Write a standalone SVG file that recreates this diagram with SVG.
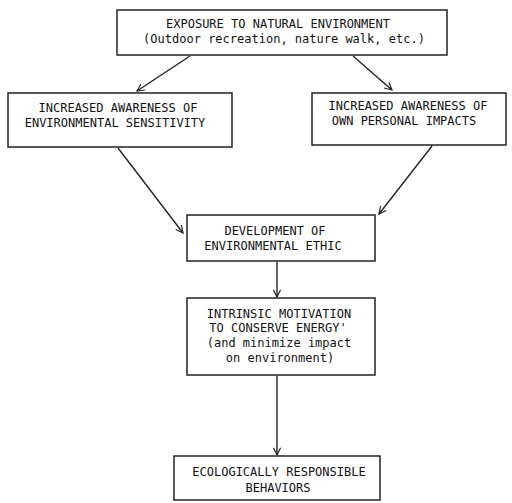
<svg xmlns="http://www.w3.org/2000/svg" width="512" height="503" viewBox="0 0 512 503">
<style>
.box{fill:#fff;stroke:#222;stroke-width:1.5}
.t{font-family:"DejaVu Sans Mono","Liberation Mono",monospace;font-size:12px;fill:#111;text-anchor:middle}
.c{stroke:#222;stroke-width:1.4;fill:none}
</style>
<defs>
<marker id="ah" viewBox="0 0 10 10" refX="9" refY="5" markerWidth="9" markerHeight="9" markerUnits="userSpaceOnUse" orient="auto">
<path d="M1,1 L9,5 L1,9" fill="none" stroke="#222" stroke-width="1.3"/>
</marker>
</defs>
<rect width="512" height="503" fill="#fff"/>
<g id="connectors">
<line class="c" x1="190" y1="56" x2="137" y2="91" marker-end="url(#ah)"/>
<line class="c" x1="353" y1="56" x2="392" y2="90" marker-end="url(#ah)"/>
<line class="c" x1="118" y1="148" x2="183" y2="233" marker-end="url(#ah)"/>
<line class="c" x1="432" y1="146" x2="379" y2="214" marker-end="url(#ah)"/>
<line class="c" x1="277" y1="262" x2="277" y2="297" marker-end="url(#ah)"/>
<line class="c" x1="277" y1="376" x2="277" y2="455" marker-end="url(#ah)"/>
</g>
<g id="exposure">
<rect class="box" x="117" y="10" width="330" height="45"/>
<text class="t" x="278" y="28">EXPOSURE TO NATURAL ENVIRONMENT</text>
<text class="t" x="284" y="43">(Outdoor recreation, nature walk, etc.)</text>
</g>
<g id="awareness-sensitivity">
<rect class="box" x="8" y="93" width="224" height="54"/>
<text class="t" x="118" y="112">INCREASED AWARENESS OF</text>
<text class="t" x="115" y="127">ENVIRONMENTAL SENSITIVITY</text>
</g>
<g id="awareness-impacts">
<rect class="box" x="312" y="93" width="194" height="52"/>
<text class="t" x="408" y="110">INCREASED AWARENESS OF</text>
<text class="t" x="404" y="125">OWN PERSONAL IMPACTS</text>
</g>
<g id="ethic">
<rect class="box" x="187" y="215" width="188" height="46"/>
<text class="t" x="275" y="235">DEVELOPMENT OF</text>
<text class="t" x="273" y="250">ENVIRONMENTAL ETHIC</text>
</g>
<g id="motivation">
<rect class="box" x="187" y="298" width="188" height="77"/>
<text class="t" x="279" y="318">INTRINSIC MOTIVATION</text>
<text class="t" x="278" y="332">TO CONSERVE ENERGY'</text>
<text class="t" x="279" y="347">(and minimize impact</text>
<text class="t" x="280" y="362">on environment)</text>
</g>
<g id="behaviors">
<rect class="box" x="174" y="456" width="206" height="44"/>
<text class="t" x="279" y="476">ECOLOGICALLY RESPONSIBLE</text>
<text class="t" x="278" y="492">BEHAVIORS</text>
</g>
</svg>
